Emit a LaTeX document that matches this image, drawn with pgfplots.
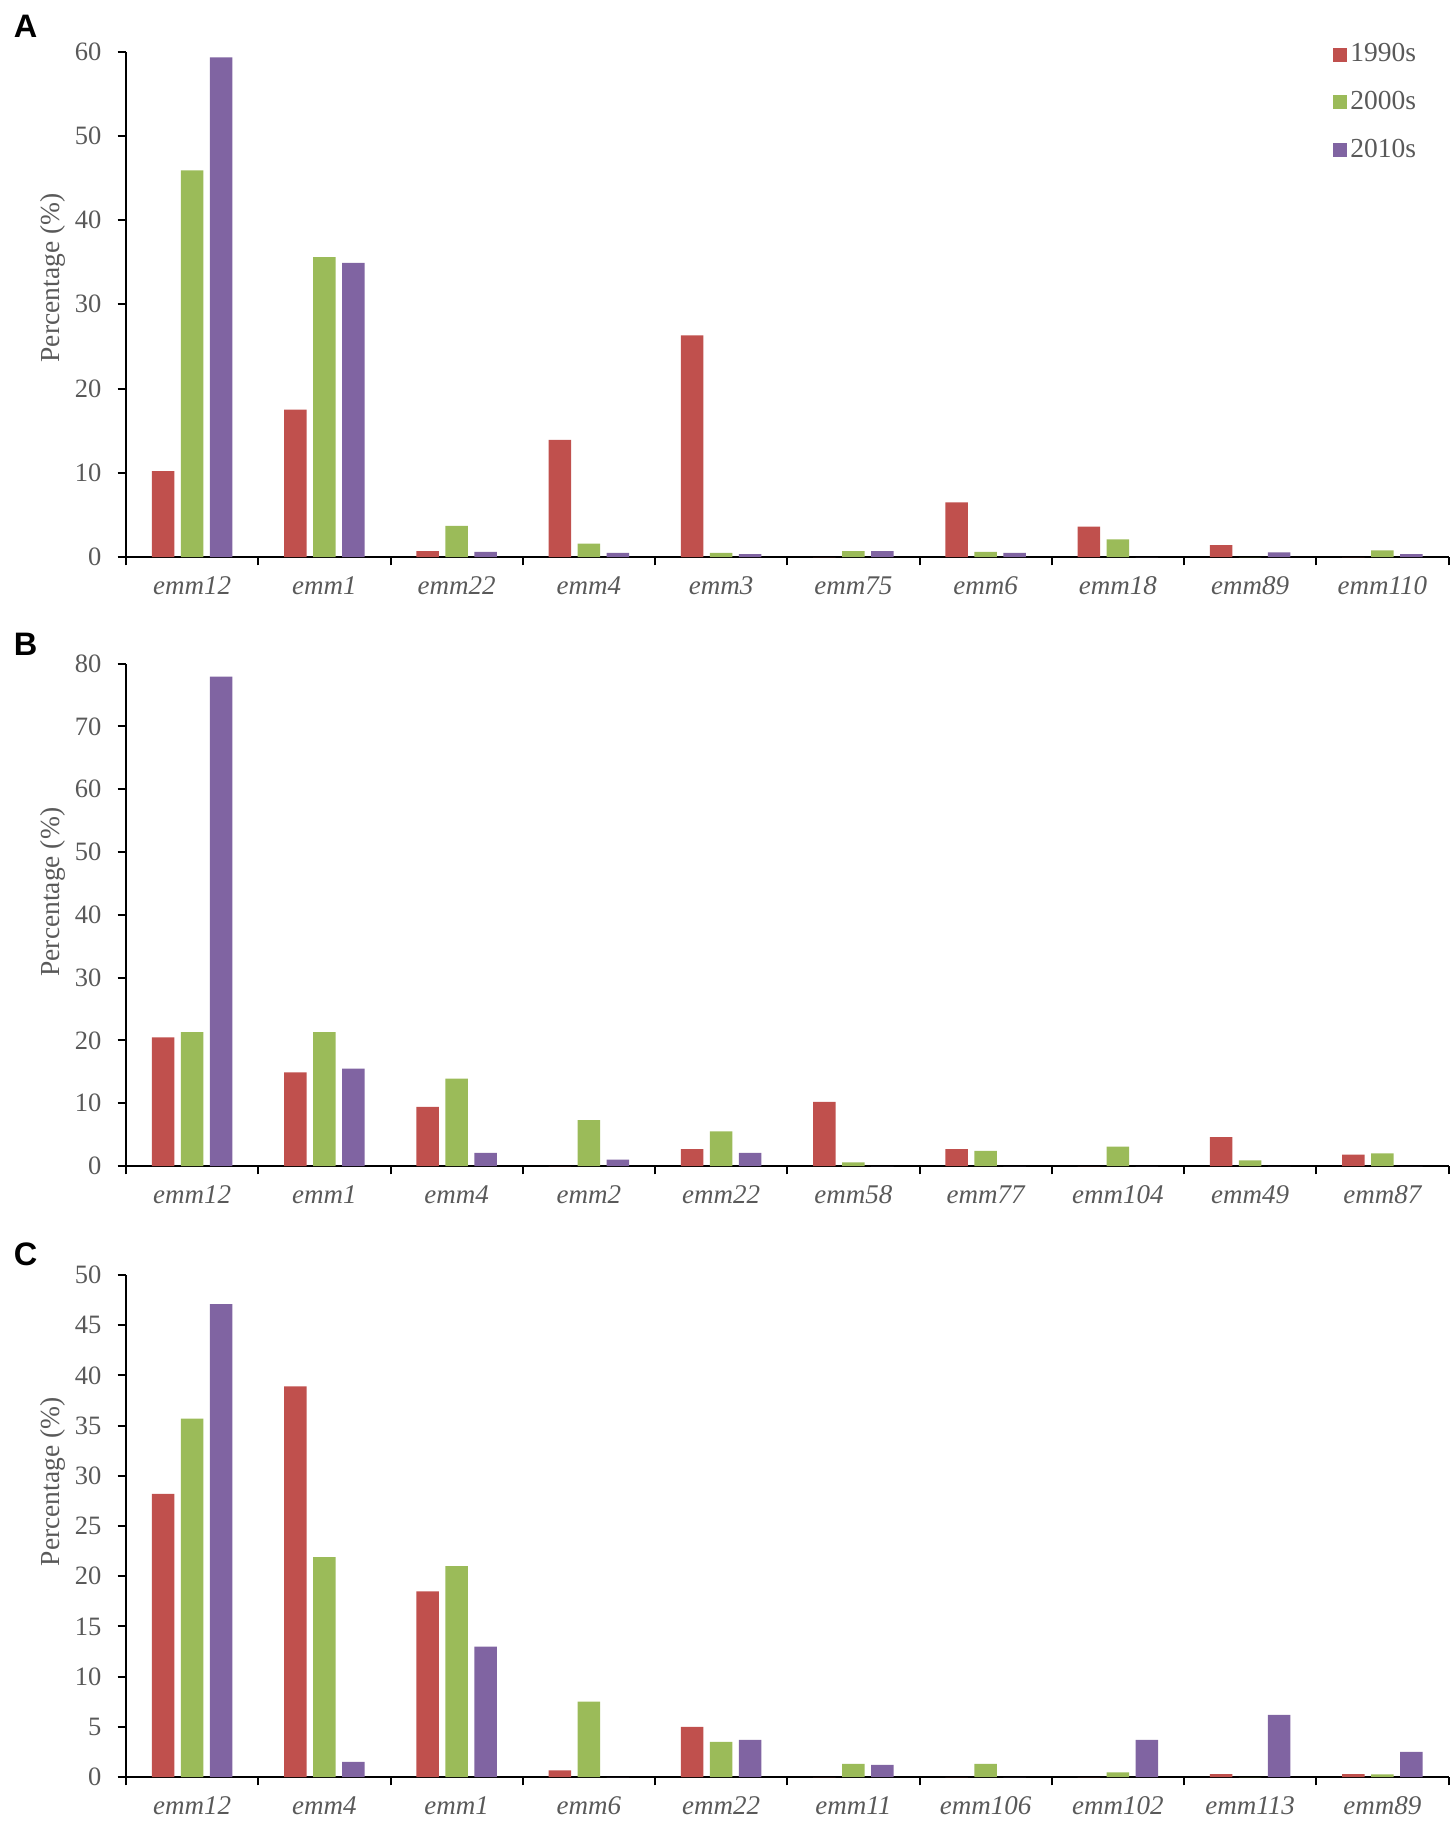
\documentclass[border=0pt]{standalone}
\usepackage{pgfplots}
\usepackage{pgfplotstable}
\pgfplotsset{compat=1.18}
\usepackage{fontspec}
\setmainfont{Liberation Serif}
\newfontfamily\arialf{Liberation Sans}
\definecolor{cred}{HTML}{C0504D}
\definecolor{cgreen}{HTML}{9BBB59}
\definecolor{cpurple}{HTML}{8064A2}
\definecolor{tgray}{HTML}{595959}

\pgfplotstableread{
x r g p
0 10.2 45.9 59.3
1 17.5 35.6 34.9
2 0.7 3.7 0.6
3 13.9 1.6 0.5
4 26.3 0.5 0.35
5 0 0.7 0.7
6 6.5 0.6 0.5
7 3.6 2.1 0
8 1.4 0 0.55
9 0 0.8 0.35
}\dataA
\pgfplotstableread{
x r g p
0 20.5 21.3 77.9
1 14.9 21.3 15.5
2 9.4 13.9 2.1
3 0 7.3 1.0
4 2.7 5.5 2.1
5 10.2 0.6 0
6 2.7 2.4 0
7 0 3.1 0
8 4.6 0.9 0
9 1.8 2.0 0
}\dataB
\pgfplotstableread{
x r g p
0 28.2 35.7 47.1
1 38.9 21.9 1.5
2 18.5 21.0 13.0
3 0.65 7.5 0
4 5.0 3.5 3.7
5 0 1.3 1.2
6 0 1.3 0
7 0 0.46 3.7
8 0.3 0 6.2
9 0.3 0.27 2.5
}\dataC

\pgfplotsset{
 panel/.style={
  width=529pt, height=202pt, scale only axis,
  anchor=south west,
  xmin=-0.5, xmax=9.5, ymin=0,
  axis x line=bottom, axis y line=left,
  axis line style={black, line width=0.8pt, -},
  every tick/.style={black, line width=0.8pt},
  tick align=outside,
  major tick length=3.3pt,
  xtick={-0.5,0.5,1.5,2.5,3.5,4.5,5.5,6.5,7.5,8.5,9.5},
  xticklabel style={xshift=26.45pt, yshift=-1pt, text=tgray, font=\itshape\fontsize{10.8}{12}\selectfont},
  yticklabel style={xshift=-3pt, text=tgray, font=\fontsize{10.6}{12}\selectfont},
  /pgf/number format/assume math mode=true,
  ylabel={Percentage (\%)},
  ylabel style={anchor=center, text=tgray, font=\fontsize{11}{12}\selectfont},
  legend image code/.code={\fill[##1] (0pt,-2.8pt) rectangle (5.6pt,2.8pt);},
  clip=false,
 },
 rbar/.style={ybar, bar width=9pt, bar shift=-11.6pt, fill=cred, draw=none},
 gbar/.style={ybar, bar width=9pt, bar shift=0pt, fill=cgreen, draw=none},
 pbar/.style={ybar, bar width=9pt, bar shift=11.6pt, fill=cpurple, draw=none},
}

\begin{document}
\begin{tikzpicture}
\useasboundingbox (0,0) rectangle (581.2pt,-729.2pt);

% Panel A
\begin{axis}[panel, at={(50.4pt,-222.8pt)}, height=202.2pt,
  ymax=60, ytick={0,10,...,60},
  xticklabels={emm12,emm1,emm22,emm4,emm3,emm75,emm6,emm18,emm89,emm110,{}},
  ylabel style={at={(axis description cs:-0.055,0.552)}},
  legend style={at={(axis description cs:0.912,1.024)}, anchor=north west, draw=none, fill=none,
    font=\fontsize{11}{12}\selectfont, text=tgray, row sep=7.2pt, inner sep=0pt,
    nodes={inner sep=1.5pt}, cells={anchor=west}},
  ]
\addplot[rbar] table[x=x,y=r]{\dataA};
\addplot[gbar] table[x=x,y=g]{\dataA};
\addplot[pbar] table[x=x,y=p]{\dataA};
\legend{1990s,2000s,2010s}
\end{axis}

% Panel B
\begin{axis}[panel, at={(50.4pt,-466.4pt)}, height=201pt,
  ymax=80, ytick={0,10,...,80},
  xticklabels={emm12,emm1,emm4,emm2,emm22,emm58,emm77,emm104,emm49,emm87,{}},
  ylabel style={at={(axis description cs:-0.055,0.545)}},
  ]
\addplot[rbar] table[x=x,y=r]{\dataB};
\addplot[gbar] table[x=x,y=g]{\dataB};
\addplot[pbar] table[x=x,y=p]{\dataB};
\end{axis}

% Panel C
\begin{axis}[panel, at={(50.4pt,-710.8pt)}, height=200.8pt,
  ymax=50, ytick={0,5,...,50},
  xticklabels={emm12,emm4,emm1,emm6,emm22,emm11,emm106,emm102,emm113,emm89,{}},
  ylabel style={at={(axis description cs:-0.055,0.588)}},
  ]
\addplot[rbar] table[x=x,y=r]{\dataC};
\addplot[gbar] table[x=x,y=g]{\dataC};
\addplot[pbar] table[x=x,y=p]{\dataC};
\end{axis}

\node[font=\arialf\bfseries\fontsize{13}{14}\selectfont] at (10.2pt,-10.7pt) {A};
\node[font=\arialf\bfseries\fontsize{13}{14}\selectfont] at (10.2pt,-257.6pt) {B};
\node[font=\arialf\bfseries\fontsize{13}{14}\selectfont] at (10.2pt,-501.6pt) {C};
\end{tikzpicture}
\end{document}
